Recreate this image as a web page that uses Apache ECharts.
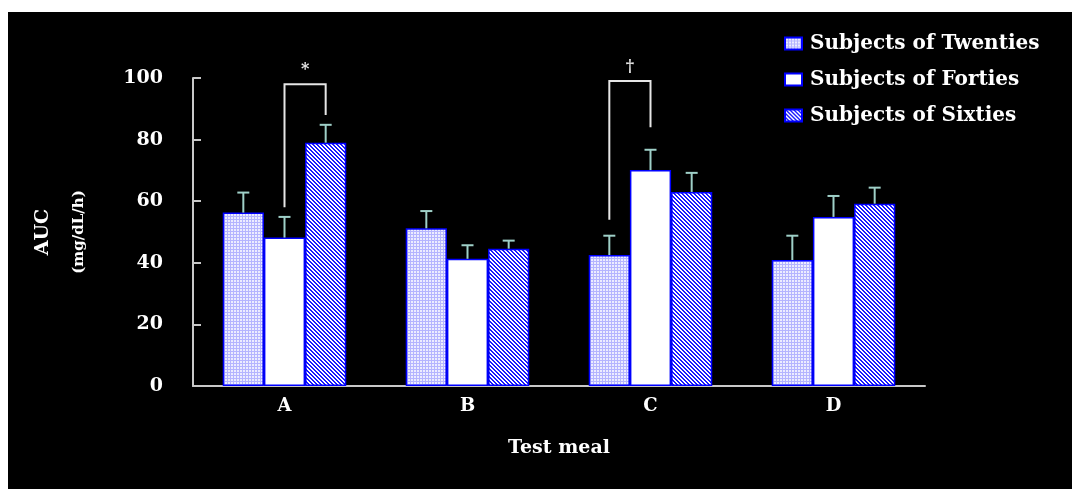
<!DOCTYPE html>
<html>
<head>
<meta charset="utf-8">
<script src="https://cdn.jsdelivr.net/npm/echarts@6/dist/echarts.min.js"></script>
<style>
  html, body { margin: 0; padding: 0; background: #ffffff; }
  #chart { position: absolute; left: 8px; top: 12px; width: 1064px; height: 477px; }
</style>
</head>
<body>
<div id="chart"></div>
<script>
// ---- data ----
const categories = ['A', 'B', 'C', 'D'];
const seriesNames = ['Subjects of Twenties', 'Subjects of Forties', 'Subjects of Sixties'];
const twenties = [56.3, 51.2, 42.5, 40.9];
const forties = [48.2, 41.3, 70.1, 54.9];
const sixties = [79.0, 44.6, 63.0, 59.2];
const twentiesErr = [6.5, 5.6, 6.3, 7.9];
const fortiesErr = [6.7, 4.4, 6.6, 6.8];
const sixtiesErr = [5.8, 2.6, 6.2, 5.2];
const yTicks = [0, 20, 40, 60, 80, 100];
// significance brackets: category, left bar index, right bar index, left leg end, right leg end, top, mark
const bracketCat = [0, 2];
const bracketLeftBar = [1, 0];
const bracketRightBar = [2, 1];
const bracketLeftEnd = [58, 54];
const bracketRightEnd = [88, 84];
const bracketTop = [98, 99];
const bracketMark = ['*', '\u2020'];

// ---- styles ----
const FONT = 'DejaVu Serif';
const BAR_FRAC = 0.225;

function makePattern(kind) {
  const c = document.createElement('canvas');
  if (kind === 'dots') {
    c.width = 3; c.height = 3;
    const ctx = c.getContext('2d');
    ctx.fillStyle = '#ececff';
    ctx.fillRect(0, 0, 3, 3);
    ctx.fillStyle = '#b4b4ff';
    ctx.fillRect(0, 0, 3, 1);
    ctx.fillRect(0, 0, 1, 3);
  } else {
    c.width = 4; c.height = 4;
    const ctx = c.getContext('2d');
    ctx.fillStyle = '#ffffff';
    ctx.fillRect(0, 0, 4, 4);
    ctx.fillStyle = '#1a1aff';
    for (let y = 0; y < 4; y++) for (let x = 0; x < 4; x++) {
      if (((x - y) % 4 + 4) % 4 < 2) ctx.fillRect(x, y, 1, 1);
    }
  }
  return { image: c, repeat: 'repeat' };
}

const fills = [makePattern('dots'), '#ffffff', makePattern('hatch')];
const values = [twenties, forties, sixties];
const errs = [twentiesErr, fortiesErr, sixtiesErr];

const chart = echarts.init(document.getElementById('chart'));

const barSeries = seriesNames.map((name, k) => ({
  name: name,
  type: 'bar',
  data: values[k],
  barWidth: (BAR_FRAC * 100) + '%',
  barGap: '0%',
  itemStyle: { color: fills[k], borderColor: '#0000ff', borderWidth: 1.5 },
  emphasis: { disabled: true },
  z: 2
}));

const errData = [];
values.forEach((arr, k) => arr.forEach((v, i) => errData.push([i, v, v + errs[k][i], k])));

const errSeries = {
  type: 'custom',
  name: 'err',
  data: errData,
  z: 5,
  silent: true,
  renderItem: function (params, api) {
    const band = api.size([1, 0])[0];
    const bw = band * BAR_FRAC;
    const k = api.value(3);
    const off = (k - 1) * bw;
    const p0 = api.coord([api.value(0), api.value(1)]);
    const p1 = api.coord([api.value(0), api.value(2)]);
    const x = p0[0] + off;
    const cap = 6;
    return {
      type: 'group',
      children: [
        { type: 'line', shape: { x1: x, y1: p0[1], x2: x, y2: p1[1] }, style: { stroke: '#9fd0c8', lineWidth: 2 } },
        { type: 'line', shape: { x1: x - cap, y1: p1[1], x2: x + cap, y2: p1[1] }, style: { stroke: '#9fd0c8', lineWidth: 2 } }
      ]
    };
  }
};

const brData = bracketCat.map((c, i) => [c, bracketLeftBar[i], bracketRightBar[i], bracketLeftEnd[i], bracketRightEnd[i], bracketTop[i], i]);

const bracketSeries = {
  type: 'custom',
  name: 'brackets',
  data: brData,
  z: 6,
  silent: true,
  clip: false,
  renderItem: function (params, api) {
    const band = api.size([1, 0])[0];
    const bw = band * BAR_FRAC;
    const c = api.value(0);
    const xl = api.coord([c, 0])[0] + (api.value(1) - 1) * bw;
    const xr = api.coord([c, 0])[0] + (api.value(2) - 1) * bw;
    const yl = api.coord([c, api.value(3)])[1];
    const yr = api.coord([c, api.value(4)])[1];
    const yt = api.coord([c, api.value(5)])[1];
    const mark = bracketMark[api.value(6)];
    return {
      type: 'group',
      children: [
        { type: 'polyline', shape: { points: [[xl, yl], [xl, yt], [xr, yt], [xr, yr]] }, style: { stroke: '#e6e6e6', lineWidth: 2, fill: null } },
        { type: 'text', x: (xl + xr) / 2, y: yt - 6, style: { text: mark, fill: '#e8e8e8', font: 'bold 16px "' + FONT + '"', align: 'center', verticalAlign: 'bottom' } }
      ]
    };
  }
};

chart.setOption({
  backgroundColor: '#000000',
  animation: false,
  grid: { left: 185, top: 66, width: 732, height: 308 },
  legend: {
    data: seriesNames.map(n => ({ name: n, icon: 'rect' })),
    orient: 'vertical',
    left: 776,
    top: 20,
    padding: 0,
    itemWidth: 17,
    itemHeight: 12,
    itemGap: 13,
    selectedMode: false,
    textStyle: { color: '#ffffff', fontFamily: FONT, fontWeight: 'bold', fontSize: 20, lineHeight: 23, padding: [0, 0, 0, 3] }
  },
  xAxis: {
    type: 'category',
    data: categories,
    name: 'Test meal',
    nameLocation: 'middle',
    nameGap: 53,
    nameTextStyle: { color: '#ffffff', fontFamily: FONT, fontWeight: 'bold', fontSize: 19 },
    axisLine: { lineStyle: { color: '#c8c8c8', width: 2 } },
    axisTick: { show: false },
    axisLabel: { color: '#ffffff', fontFamily: FONT, fontWeight: 'bold', fontSize: 18, margin: 11 }
  },
  yAxis: {
    type: 'value',
    min: yTicks[0],
    max: yTicks[yTicks.length - 1],
    interval: yTicks[1] - yTicks[0],
    name: '{a|AUC}\n{b|(mg/dL/h)}',
    nameLocation: 'middle',
    nameRotate: 90,
    nameGap: 96,
    nameTextStyle: {
      color: '#ffffff',
      rich: {
        a: { color: '#ffffff', fontFamily: FONT, fontWeight: 'bold', fontSize: 19, lineHeight: 36 },
        b: { color: '#ffffff', fontFamily: FONT, fontWeight: 'bold', fontSize: 15, lineHeight: 36 }
      }
    },
    splitLine: { show: false },
    axisLine: { show: true, lineStyle: { color: '#c8c8c8', width: 2 } },
    axisTick: { show: true, inside: true, length: 8, lineStyle: { color: '#c8c8c8', width: 2 } },
    axisLabel: { color: '#ffffff', fontFamily: FONT, fontWeight: 'bold', fontSize: 19, margin: 30 }
  },
  series: barSeries.concat([errSeries, bracketSeries])
});
</script>
</body>
</html>
